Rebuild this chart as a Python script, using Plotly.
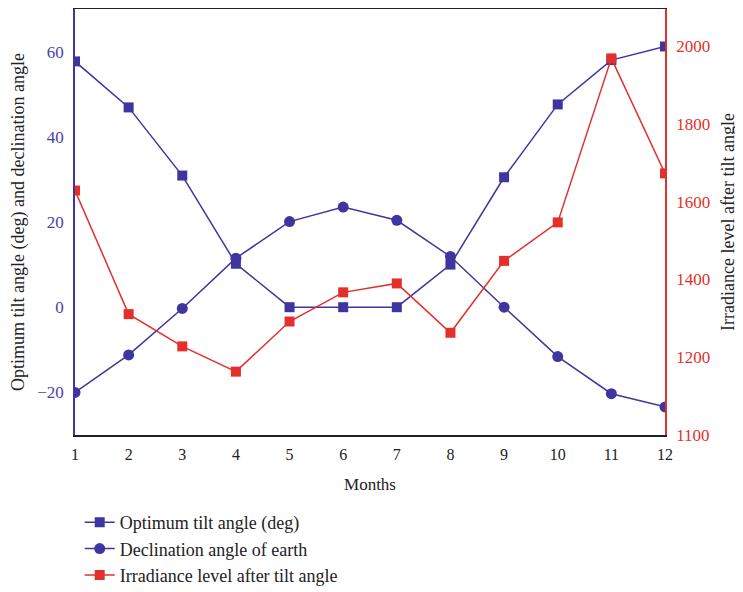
import plotly.graph_objects as go

months = list(range(1, 13))
tilt_angle = [57.7, 46.9, 30.9, 10.2, 0, 0, 0, 10.0, 30.5, 47.6, 58.0, 61.2]
declination = [-20.0, -11.2, -0.3, 11.5, 20.1, 23.5, 20.4, 11.9, 0.0, -11.6, -20.3, -23.4]
irradiance = [1629, 1311, 1228, 1163, 1292, 1367, 1390, 1263, 1448, 1547, 1969, 1673]

left_ticks = [-20, 0, 20, 40, 60]
right_tickvals = [1000, 1200, 1400, 1600, 1800, 2000]
right_ticktext = ["1100", "1200", "1400", "1600", "1800", "2000"]

BLUE = "#3f35a0"
RED = "#e3302a"
FONT = "Liberation Serif"

fig = go.Figure()
fig.add_trace(go.Scatter(x=months, y=tilt_angle, name="Optimum tilt angle (deg)",
                         mode="lines+markers", line=dict(color=BLUE, width=1.5),
                         marker=dict(symbol="square", size=10, color=BLUE), legendgroup="a"))
fig.add_trace(go.Scatter(x=months, y=declination, name="Declination angle of earth",
                         mode="lines+markers", line=dict(color=BLUE, width=1.5),
                         marker=dict(symbol="circle", size=11, color=BLUE), legendgroup="b"))
fig.add_trace(go.Scatter(x=months, y=irradiance, name="Irradiance level after tilt angle",
                         mode="lines+markers", line=dict(color=RED, width=1.5),
                         marker=dict(symbol="square", size=10, color=RED), yaxis="y2",
                         legendgroup="c"))

fig.update_layout(
    width=735, height=584,
    margin=dict(l=67, r=78, t=1, b=157, autoexpand=False),
    paper_bgcolor="white", plot_bgcolor="white",
    font=dict(family=FONT, size=16, color="#222"),
    xaxis=dict(range=[1, 12], tickvals=months, showgrid=False, zeroline=False,
               showline=True, linecolor="#222", linewidth=1.5, mirror=True, ticks="",
               automargin=False, ticklabelstandoff=4,
               title=dict(text="Months", standoff=16, font=dict(size=17, color="#222")),
               tickfont=dict(size=16, color="#222")),
    yaxis=dict(range=[-30, 70], tickvals=left_ticks, showgrid=False, zeroline=False,
               showline=True, linecolor=BLUE, linewidth=1.5, ticks="",
               automargin=False, ticklabelstandoff=6,
               tickfont=dict(size=17, color="#4a42a8"),
               title=dict(text="Optimum tilt angle (deg) and declination angle",
                          font=dict(size=18, color="#222"), standoff=12)),
    yaxis2=dict(range=[1000, 2096], tickvals=right_tickvals, ticktext=right_ticktext,
                overlaying="y", side="right", showgrid=False, zeroline=False,
                showline=True, linecolor=RED, linewidth=1.5, ticks="",
                automargin=False, ticklabelstandoff=6,
                tickfont=dict(size=17, color=RED),
                title=dict(text="Irradiance level after tilt angle",
                           font=dict(size=18, color="#222"), standoff=12)),
    legend=dict(x=0.008, y=-0.162, xanchor="left", yanchor="top", orientation="v",
                font=dict(size=18, color="#222"), bgcolor="rgba(0,0,0,0)",
                tracegroupgap=0, itemwidth=30),
    showlegend=True,
)

fig.write_html("out.html")
